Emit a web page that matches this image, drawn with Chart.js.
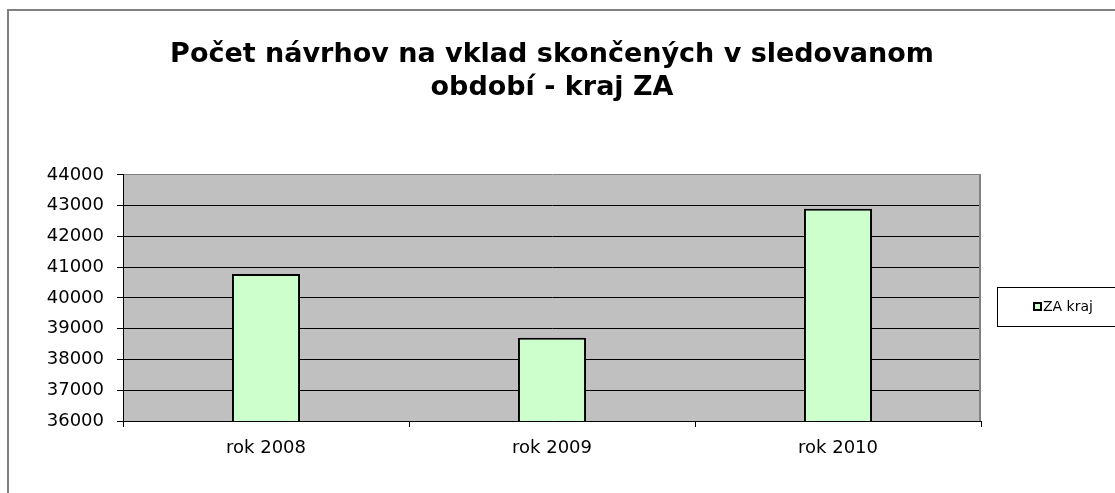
<!DOCTYPE html>
<html>
<head>
<meta charset="utf-8">
<script src="https://cdn.jsdelivr.net/npm/chart.js@4/dist/chart.umd.min.js"></script>
<style>
html,body{margin:0;padding:0;background:#fff;}
canvas{display:block;}
</style>
</head>
<body>
<canvas id="c" width="1115" height="493"></canvas>
<script>
const categories = ['rok 2008', 'rok 2009', 'rok 2010'];
const seriesLabel = 'ZA kraj';
const seriesValues = [40780, 38710, 42900];
const titleLines = ['Počet návrhov na vklad skončených v sledovanom', 'období - kraj ZA'];
const yMin = 36000, yMax = 44000, yStep = 1000;

const FONT = "'DejaVu Sans', 'Liberation Sans', Arial, sans-serif";
const BAR_FILL = '#CCFFCC';

const decor = {
  id: 'decor',
  beforeDraw(chart) {
    const {ctx, chartArea: a} = chart;
    ctx.save();
    ctx.fillStyle = '#fff';
    ctx.fillRect(0, 0, chart.width, chart.height);
    ctx.strokeStyle = '#808080';
    ctx.lineWidth = 2;
    ctx.strokeRect(8, 10, 1300, 700);
    ctx.fillStyle = '#C0C0C0';
    ctx.fillRect(a.left, a.top, a.right - a.left, a.bottom - a.top);
    ctx.restore();
  },
  afterDraw(chart) {
    const {ctx, chartArea: a} = chart;
    ctx.save();
    ctx.strokeStyle = '#808080';
    ctx.lineWidth = 2;
    ctx.beginPath();
    ctx.moveTo(a.right - 1, a.top);
    ctx.lineTo(a.right - 1, a.bottom);
    ctx.stroke();
    // legend box
    ctx.strokeStyle = '#000';
    ctx.lineWidth = 1;
    ctx.strokeRect(997.5, 287.5, 200, 39);
    ctx.fillStyle = BAR_FILL;
    ctx.fillRect(1033, 302, 9, 9);
    ctx.lineWidth = 2;
    ctx.strokeRect(1034, 303, 7, 7);
    ctx.fillStyle = '#000';
    ctx.font = '14px ' + FONT;
    ctx.textBaseline = 'middle';
    ctx.textAlign = 'left';
    ctx.fillText(chart.data.datasets[0].label, 1043, 307);
    ctx.restore();
  }
};

new Chart(document.getElementById('c'), {
  type: 'bar',
  data: {
    labels: categories,
    datasets: [{
      label: seriesLabel,
      data: seriesValues,
      backgroundColor: BAR_FILL,
      borderColor: '#000',
      borderWidth: 2,
      borderSkipped: false,
      categoryPercentage: 1,
      barPercentage: 0.238
    }]
  },
  options: {
    responsive: false,
    animation: false,
    devicePixelRatio: 1,
    layout: {padding: {left: 0, right: 134, top: 0, bottom: 0}},
    plugins: {
      legend: {display: false},
      tooltip: {enabled: false},
      title: {
        display: true,
        fullSize: false,
        text: titleLines,
        color: '#000',
        font: {family: FONT, size: 27, weight: 'bold', lineHeight: 1.24},
        padding: {top: 38, bottom: 70}
      }
    },
    scales: {
      x: {
        afterFit(s) { s.height = 72; },
        grid: {display: true, drawOnChartArea: false, drawTicks: true, tickLength: 6, color: '#000', offset: true},
        border: {display: true, color: '#000', width: 1},
        ticks: {color: '#000', font: {family: FONT, size: 18}, padding: 11, maxRotation: 0}
      },
      y: {
        min: yMin, max: yMax,
        afterFit(s) { s.width = 123; },
        grid: {color: ctx => (ctx.tick && ctx.tick.value === yMax ? '#808080' : '#000'), tickColor: '#000', tickLength: 6, lineWidth: 1},
        border: {display: true, color: '#000', width: 1},
        ticks: {stepSize: yStep, color: '#000', font: {family: FONT, size: 18}, padding: 13, callback: v => String(v)}
      }
    }
  },
  plugins: [decor]
});
</script>
</body>
</html>
